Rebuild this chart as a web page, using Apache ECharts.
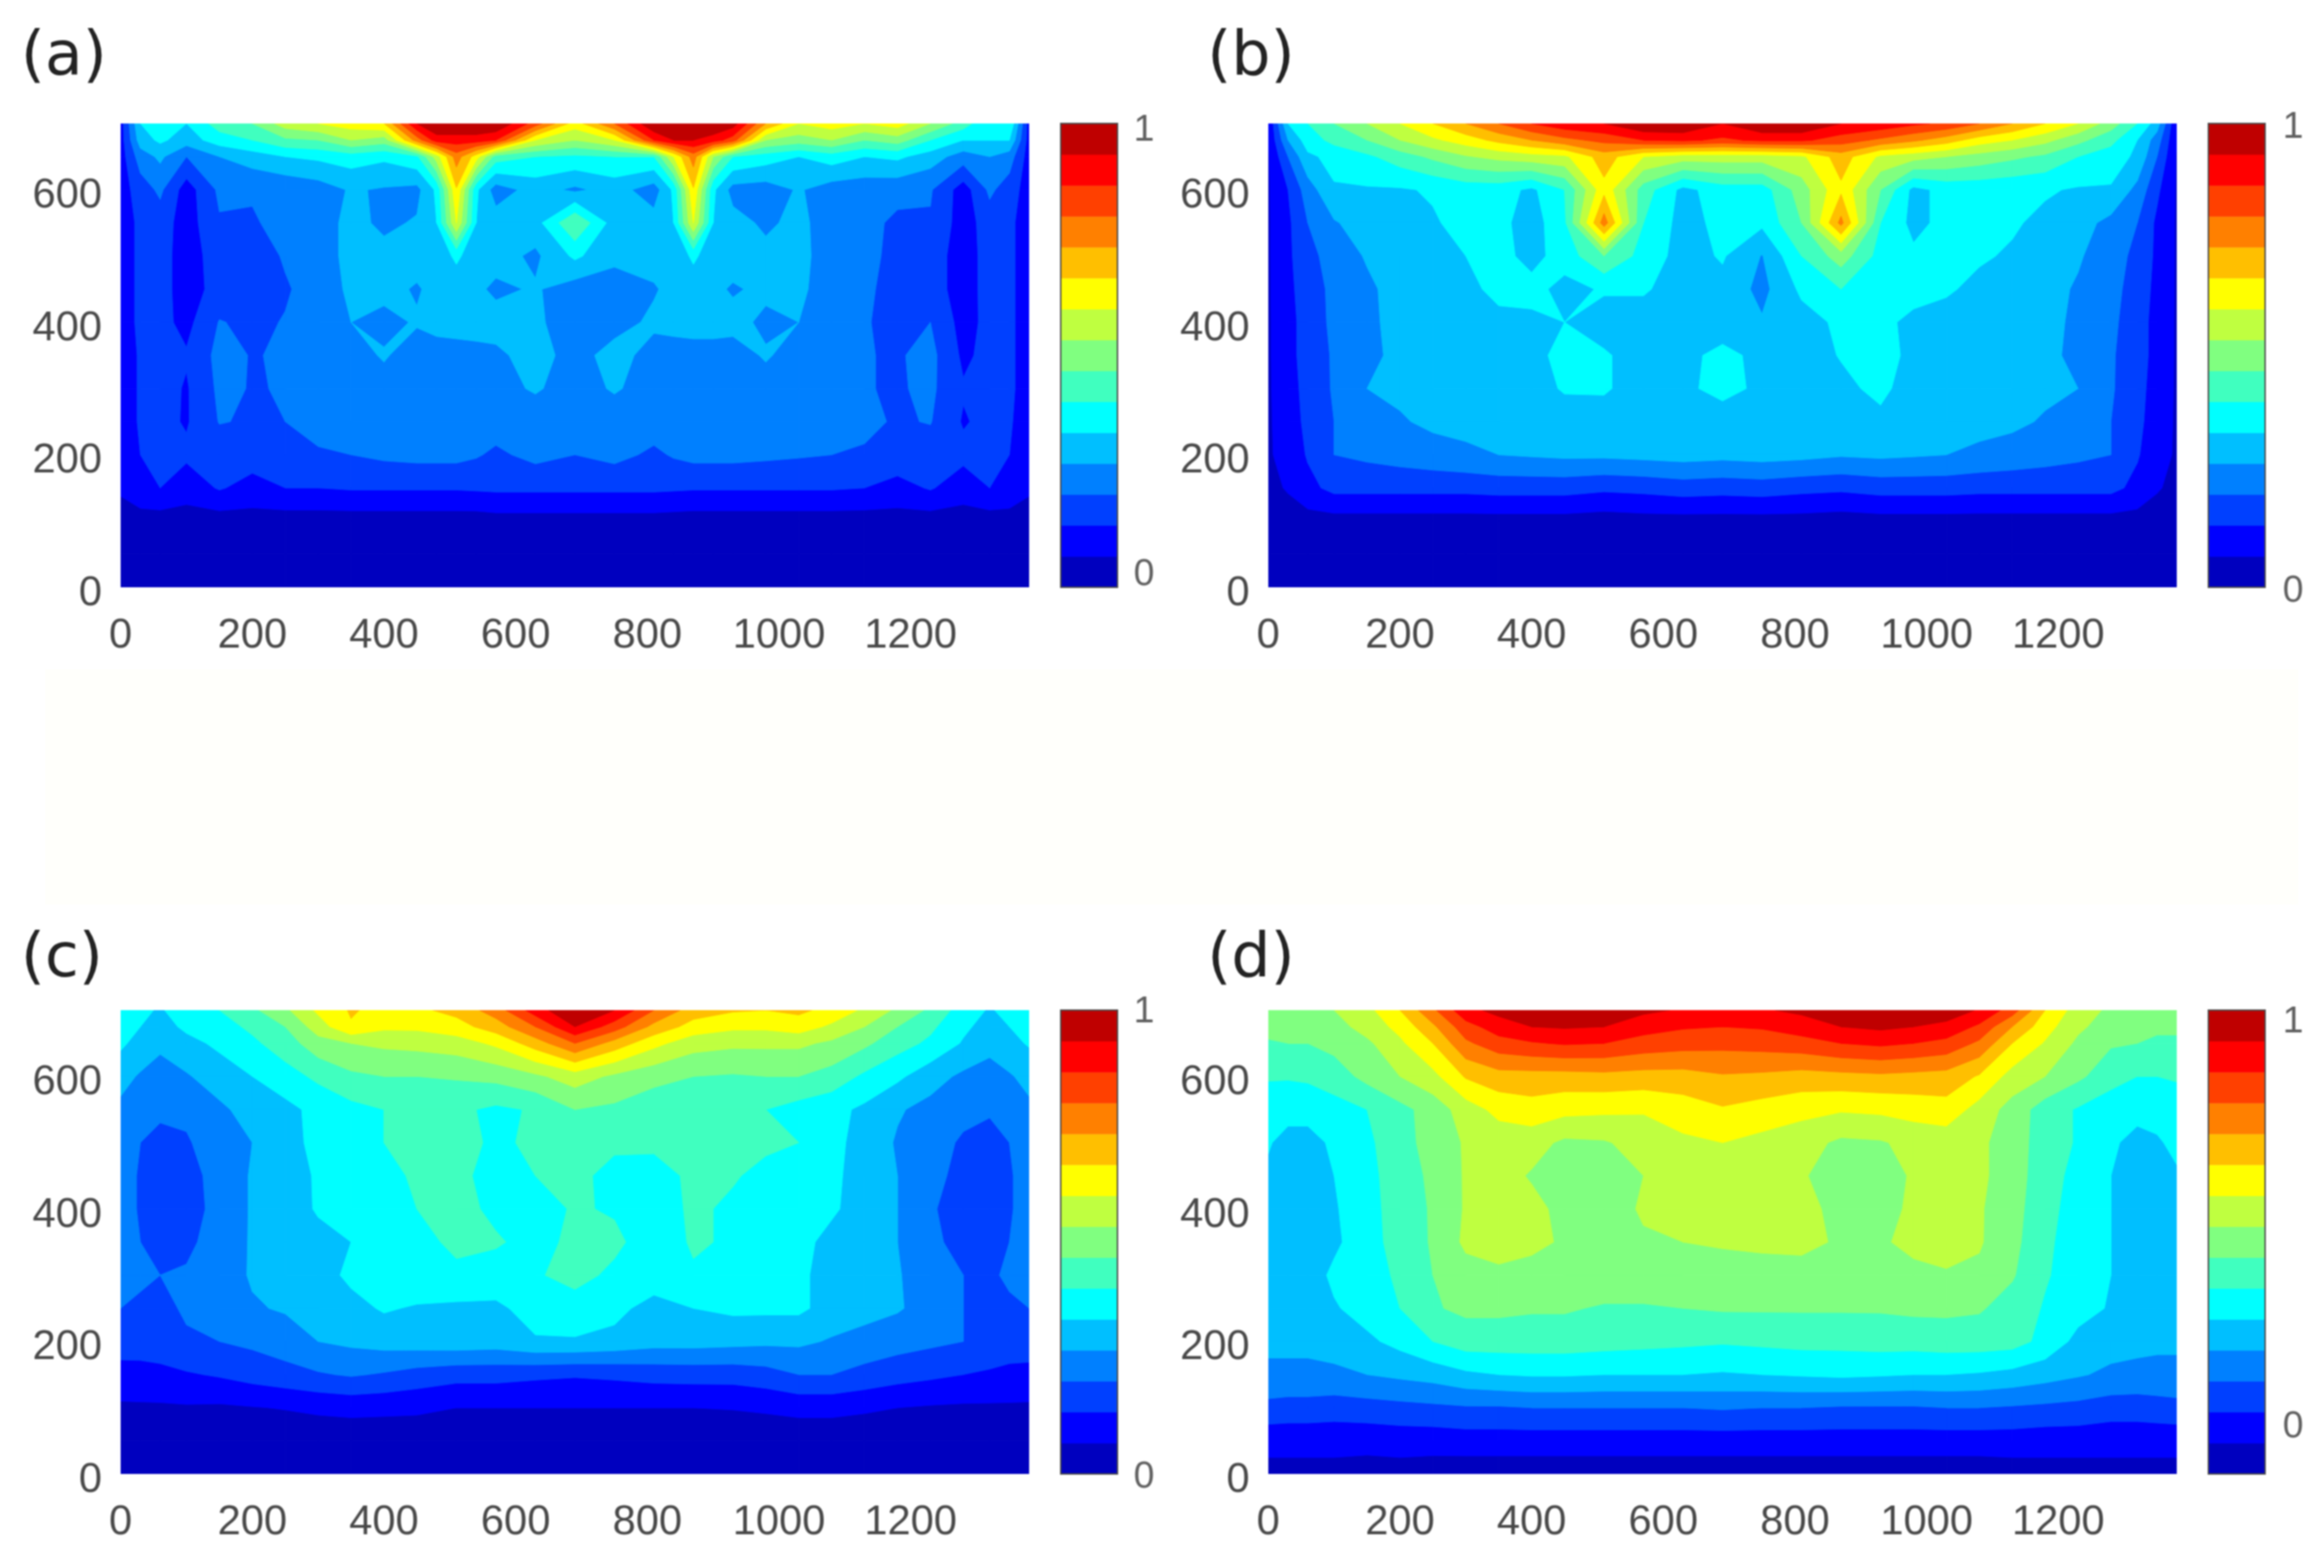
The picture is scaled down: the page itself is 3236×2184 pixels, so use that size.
<!DOCTYPE html>
<html lang="en">
<head>
  <meta charset="UTF-8">
  <title>Contour panels</title>
  <script src="https://cdn.jsdelivr.net/npm/echarts@6/dist/echarts.min.js"></script>
  <style>
    html, body { margin: 0; padding: 0; background: #fff; }
    #chart { width: 3236px; height: 2184px; }
    /* the source figure is a soft, upscaled image */
    #chart canvas { filter: blur(1.2px); }
  </style>
</head>
<body>
<div id="chart"></div>
<script>
// grid nodes, values are in colour band units (0 to 15)
var xNodes = [0,30,60,100,150,200,250,300,350,400,450,510,570,630,690,750,810,870,930,980,1030,1080,1130,1180,1230,1280,1320,1350,1380];
// panel (a) has narrow spikes at 510 and 870 so it gets four more columns
var xNodesA = [0,30,60,100,150,200,250,300,350,400,450,480,510,540,570,630,690,750,810,840,870,900,930,980,1030,1080,1130,1180,1230,1280,1320,1350,1380];
var yNodes = [700,675,650,600,550,500,450,400,350,300,250,200,150,100,50,0];
var xTicks = [0,200,400,600,800,1000,1200];
var yTicks = [0,200,400,600];
var panelNames = ['(a)','(b)','(c)','(d)'];
var bandColors = ['#0000bf','#0000ff','#0040ff','#0080ff','#00bfff','#00ffff','#40ffbf','#80ff80','#bfff40','#ffff00','#ffbf00','#ff8000','#ff4000','#ff0000','#bf0000'];

var panelA = [
  [1.5,5,6,5,6.5,7,8.5,9,9.5,10,14,15,15,15,15,12.5,9.5,12,15,15,15,15,14.5,11,9,9.5,9,9.5,8,6.5,5,6,1.5],
  [1.5,4.5,5.2,4.5,5.5,6,6.8,7,8,7.5,11.5,13.5,13.5,13.5,13,9,8,9,13,14,14,13.5,12.5,8,7.5,8,7,7.5,6,5,5,5,1.5],
  [1.5,3.5,4.2,3,4,4.5,5,5.2,5.5,5.2,5.8,8.5,11.5,9.5,6.5,6,5.8,6,6,9,11.5,8,6,5.5,5,5.5,5,5.2,4.5,3.5,4,3.5,1.5],
  [1.5,2.5,3.2,1.5,3.2,3.1,3.2,3.5,4.1,3.9,3.7,5.2,9.9,5.2,3.5,4.4,3.8,4.4,3.5,5.2,9.9,5.2,3.6,3.5,4.1,3.5,3.4,3.3,3.1,1.5,3.2,2.5,1.5],
  [1.5,2.2,2.5,1.5,2.9,2.9,3.3,3.5,4.3,3.8,4.1,5,9,5,4.5,4.6,6.95,4.5,4.4,5,9,5,4.4,3.8,4.3,3.4,3.3,2.8,2.9,1.5,2.5,2.2,1.5],
  [1.5,2.2,2.4,1.5,2.5,2.5,3.1,3.5,4.3,4.3,4.4,4.4,5.2,4.4,4.4,3.8,5.2,4.2,4.4,4.3,5.2,4.4,4.4,4.3,4.3,3.5,3.3,2.7,2.5,1.5,2.4,2.2,1.5],
  [1.5,2.2,2.4,1.5,2.4,2.4,2.9,3.4,4.2,4.3,3.9,4.3,4.4,4.2,3.8,4.1,3.5,3.6,3.9,4.3,4.4,4.2,3.9,4.2,4.2,3.5,3.2,2.6,2.5,1.5,2.4,2.2,1.5],
  [1.5,2.2,2.3,1.7,3.05,2.8,3.05,3.5,4,3.7,4.1,4.3,4.4,4.4,4.4,4.2,3.4,3.6,4.2,4.3,4.4,4.4,4.3,3.8,4,3.4,3.1,2.6,3,1.6,2.3,2.2,1.5],
  [1.5,2.1,2.4,2.1,3.3,2.95,3.1,3.4,3.6,4.1,3.5,3.6,3.6,3.7,3.8,4.4,3.6,4.4,3.6,3.6,3.6,3.6,3.6,4.1,3.6,3.3,3.05,2.9,3.3,1.8,2.3,2.2,1.5],
  [1.5,2.1,2.4,1.9,3.2,2.95,3.05,3.3,3.5,3.6,3.5,3.6,3.6,3.6,3.7,4.1,3.6,4.1,3.6,3.6,3.6,3.6,3.6,3.6,3.5,3.4,3.05,2.9,3.2,2.1,2.3,2.2,1.5],
  [1.5,2.1,2.3,1.9,3.05,2.9,3,3.3,3.5,3.5,3.5,3.5,3.5,3.5,3.5,3.5,3.5,3.5,3.5,3.5,3.5,3.5,3.5,3.5,3.5,3.4,3.2,2.9,3.05,1.9,2.3,2.1,1.5],
  [1.5,2,2.1,2.2,2.4,2.5,2.7,2.9,3,3.2,3.3,3.3,3.3,3.1,2.8,3.3,3,3.3,2.8,3.1,3.3,3.3,3.3,3.2,3.1,3,2.9,2.7,2.5,2.3,2.1,2,1.5],
  [1.2,1.8,2,1.4,2.1,1.6,2,2,2.1,2.1,2.1,2.1,2.1,2.15,2.2,2.2,2.2,2.2,2.2,2.15,2.1,2.1,2.1,2.1,2.1,2.1,2,1.6,2.1,1.4,2,1.8,1.2],
  [.4,.5,.5,.6,.5,.6,.5,.5,.5,.5,.5,.5,.5,.5,.6,.6,.6,.6,.6,.55,.5,.5,.5,.5,.5,.5,.5,.6,.5,.6,.5,.5,.4],
  [.2,.2,.2,.2,.2,.2,.2,.2,.2,.2,.2,.2,.2,.2,.2,.2,.2,.2,.2,.2,.2,.2,.2,.2,.2,.2,.2,.2,.2,.2,.2,.2,.2],
  [0,0,0,0,0,0,0,0,0,0,0,0,0,0,0,0,0,0,0,0,0,0,0,0,0,0,0,0,0,0,0,0,0]
];

var panelB = [
  [1,5,6,7,8,9,10,11,12,13,13.7,14,15,15,14,15,15,14,13.7,13.2,12.8,12,11,10,9,7.5,6,4.5,1],
  [1,4,5.5,6.3,7,8,8.8,9.5,10.3,11,11.7,12.3,13,13.2,12.8,13.2,13.2,12.5,11.8,11.2,10.5,9.5,9,8.3,7.3,6.3,5,3.5,1],
  [.9,3,4.8,5.3,5.8,6.5,7.2,7.9,8.3,8.6,8.8,10.5,9,8.5,8.5,8.5,8.8,10.5,8.8,8.4,8,7.6,7.2,6.8,6,5.5,4.8,3,.9],
  [.9,2,3.5,4.9,4.9,4.9,5.1,5.4,5.4,4.8,6,9.7,6.5,4.7,5.5,5.5,7.5,9.8,7,4.7,5.3,5.3,5.2,5.1,4.9,4.9,3.7,2.2,.9],
  [.9,1.8,3,3.9,4.5,4.8,4.9,5.3,5.3,4.5,5.8,11.5,6,4.6,5.3,5.2,7,11.3,6,4.7,5.3,5.2,5.1,4.8,4.4,3.7,3,1.8,.9],
  [.9,1.8,2.7,3.4,4.1,4.6,4.8,5,5.3,4.7,5.4,7,5.6,4.6,5.1,3.95,6,7.5,5.6,5.2,5.3,5.1,4.9,4.5,4.1,3.5,2.7,1.8,.9],
  [.9,1.7,2.6,3.2,3.8,4.4,4.6,4.8,5.2,5.3,4.7,5.1,5.1,4.6,4.7,3.7,5.2,6,5.4,5.3,5.1,4.8,4.6,4.3,3.9,3.3,2.6,1.7,.9],
  [.9,1.6,2.5,3.2,3.8,4.3,4.6,4.7,4.8,4.8,5,4.6,4.6,4.6,4.6,4.1,4.6,5.2,5.2,4.8,4.7,4.7,4.6,4.3,3.8,3.2,2.5,1.6,.9],
  [.9,1.6,2.5,3.1,3.8,4.2,4.4,4.5,4.6,4.7,5.3,5.1,4.6,4.8,5.2,4.8,4.6,5.05,5.3,4.8,4.6,4.6,4.5,4.2,3.8,3.1,2.5,1.6,.9],
  [.9,1.5,2.4,3.1,4,4.2,4.4,4.5,4.5,4.6,5.1,5.1,4.6,4.8,5.3,4.8,4.6,4.8,5.2,4.6,4.5,4.5,4.4,4.2,4,3.1,2.4,1.5,.9],
  [.9,1.4,2.3,3,3.6,3.9,4.2,4.3,4.4,4.4,4.5,4.6,4.5,4.5,4.5,4.5,4.5,4.5,4.8,4.4,4.4,4.3,4.2,3.9,3.6,3,2.3,1.4,.9],
  [.9,1.3,2.1,3,3.2,3.4,3.6,3.8,4,4.1,4.2,4.2,4.3,4.4,4.3,4.4,4.3,4.1,4.2,4.1,4,3.8,3.6,3.4,3.2,3,2.1,1.3,.9],
  [.7,1.1,1.7,2.3,2.3,2.3,2.3,2.3,2.4,2.4,2.4,2.2,2.3,2.5,2.4,2.5,2.3,2.2,2.4,2.4,2.4,2.3,2.3,2.3,2.3,2.3,1.7,1.1,.7],
  [.4,.5,.6,.6,.6,.6,.6,.6,.6,.6,.6,.5,.6,.6,.6,.6,.6,.5,.6,.6,.6,.6,.6,.6,.6,.6,.6,.5,.4],
  [.2,.2,.2,.2,.2,.2,.2,.2,.2,.2,.2,.2,.2,.2,.2,.2,.2,.2,.2,.2,.2,.2,.2,.2,.2,.2,.2,.2,.2],
  [0,0,0,0,0,0,0,0,0,0,0,0,0,0,0,0,0,0,0,0,0,0,0,0,0,0,0,0,0]
];

var panelC = [
  [5.5,5.2,4.9,5.5,6,6.8,7.8,9.2,10.1,9.7,9.8,10.3,11.5,13.5,15,14,12,10.5,10.1,10,10.2,9.7,8.8,7.8,6.8,5.5,4.9,5.3,5.5],
  [5.3,5,4.6,5.2,5.6,6.2,7,8.5,9.9,9.2,9.2,9.6,10.5,12,14,12.5,10.7,9.6,9.2,9.2,9.5,8.8,8,7,6.2,5.2,4.6,5,5.3],
  [5.2,4.6,4.2,4.7,5.2,5.8,6.5,7.6,8,8.2,8.3,8.5,9.2,10.5,12,10.6,9.3,8.4,8.2,8.2,8.2,7.8,7.2,6.4,5.8,4.9,4.3,4.7,5.1],
  [4.3,3.9,3.6,3.9,4.5,5,5.6,6.2,6.8,7,7,7.1,7.3,7.8,8.5,7.8,7.3,7,6.9,7,7,6.6,5.8,5.2,4.4,3.8,3.6,3.9,4.3],
  [3.8,3.4,3.2,3.2,3.8,4.4,4.7,5.3,5.7,6,6.3,6.2,5.8,6.1,7,6.8,6.4,6.2,6.1,6,5.6,5.3,4.8,4.1,3.7,3.2,3.1,3.4,3.8],
  [3.5,3,2.7,2.9,3.5,4,4.6,5.3,5.9,6,6.2,6.2,5.9,6.1,6.4,6.3,6.3,6.3,6.3,6.2,6,5.3,4.6,3.9,3.3,2.9,2.7,3,3.5],
  [3.4,2.9,2.5,2.7,3.3,4.1,4.6,5.1,5.3,5.6,6.2,6.2,5.7,6,6.4,5.5,5.4,6.3,6.1,5.7,5.4,5.2,4.6,4,3.2,2.8,2.5,2.9,3.4],
  [3.4,2.9,2.5,2.6,3.3,4.1,4.5,5.1,5.4,5.6,6,6.3,5.8,5.6,6.1,5.9,5.4,6.2,5.8,5.4,5.2,5.1,4.7,4,3.1,2.6,2.5,2.9,3.4],
  [3.3,3,2.6,2.8,3.4,4.1,4.4,4.7,5,5.4,5.7,6.2,6.1,5.7,6.2,6.2,5.5,6.1,5.9,5.5,5.2,4.8,4.6,4,3.2,2.7,2.6,3,3.3],
  [3.2,3.1,3,3.1,3.5,4.1,4.4,4.6,5.2,5.4,5.7,5.8,5.6,5.9,6.3,5.8,5.6,5.9,5.6,5.4,5.2,4.6,4.4,4.1,3.3,3,2.9,3.1,3.2],
  [3,2.9,2.8,3.1,3.4,3.9,4.1,4.3,4.7,5.1,4.9,4.8,4.8,5.4,5.6,5.3,4.6,5,5.2,5.2,5.2,4.6,4.4,4.1,3.6,3,2.9,2.9,3],
  [2.5,2.4,2.4,2.9,3,3.2,3.5,4,4.2,4.4,4.5,4.6,4.5,4.9,4.9,4.7,4.4,4.4,4.3,4.2,4.2,3.9,3.6,3.4,3.2,3,2.5,2.4,2.5],
  [1.6,1.7,1.8,1.9,2.1,2.4,2.65,2.9,3.1,2.9,2.6,2.35,2.35,2.2,2.1,2.2,2.35,2.4,2.4,2.6,3,3,2.7,2.4,2.2,2,1.9,1.8,1.7],
  [.85,.85,.85,.9,.85,.95,1.05,1.2,1.3,1.25,1.2,1,1,1,1,1,1,1,1.05,1.15,1.3,1.3,1.15,1,.9,.85,.85,.85,.85],
  [.3,.3,.3,.3,.3,.3,.3,.3,.3,.3,.3,.3,.3,.3,.3,.3,.3,.3,.3,.3,.3,.3,.3,.3,.3,.3,.3,.3,.3],
  [0,0,0,0,0,0,0,0,0,0,0,0,0,0,0,0,0,0,0,0,0,0,0,0,0,0,0,0,0]
];

var panelD = [
  [7.6,7.6,7.7,8,8.7,10,11.8,13.7,14.3,15,15,15,14.2,13.9,13.8,13.9,14.2,15,15,15,14.6,13.9,12.5,10,8.5,7.8,7.5,7.4,7.4],
  [7.3,7.2,7.3,7.6,8.4,9.3,10.8,12.6,13.5,14,14.1,14,13.4,13.1,13,13.1,13.5,14,14.2,14,13.7,12.8,11,9.4,8.2,7.5,7.2,7.1,7.1],
  [6.9,7,7,7.3,7.8,8.8,10,11.8,12.6,12.9,13.1,13,12.6,12.4,12.3,12.4,12.6,13,13.2,13,12.7,11.8,10,8.9,7.8,7.1,7,6.9,6.9],
  [6.1,6.1,6.2,6.5,7.3,8,8.7,10.1,10.6,10.6,10.6,10.7,10.6,10.6,10.9,10.8,10.6,10.7,10.8,10.7,10.6,9.9,8.6,8,7.2,6.4,6,6,6.1],
  [5.4,5.2,5.2,5.6,6,6.7,7.4,8.5,9.3,9.6,9.3,9.2,9.1,9.5,9.9,9.6,9.3,9.1,9.2,9.4,9.6,8.6,7.6,6.5,5.9,5.4,5.2,5.3,5.5],
  [5.05,4.8,4.8,5.1,5.8,6.6,7.4,8.1,8.4,8.4,7.8,7.9,8.4,8.8,9,8.7,8.4,7.8,7.9,8.3,8.4,8.2,7.5,6.5,5.9,5.1,4.8,4.9,5.2],
  [4.9,4.7,4.6,5,5.7,6.5,7.2,8.1,8.4,7.9,7.4,7.5,8,8.5,8.5,8.4,8.1,7.5,7.6,8.1,8.4,8.2,7.5,6.4,5.7,5,4.6,4.7,4.9],
  [4.6,4.6,4.6,4.9,5.6,6.5,7.1,8.1,8.4,8.3,7.7,7.6,8.1,8.3,8.4,8.3,8.2,7.8,7.8,8.1,8.4,8.1,7.4,6.3,5.6,5,4.6,4.6,4.6],
  [4.5,4.5,4.5,4.8,5.6,6.4,7.1,8.2,8.4,8.2,7.9,7.6,7.9,8,8.1,8.2,8.2,7.9,7.9,8.2,8.4,8.1,7.3,6.2,5.5,5,4.6,4.5,4.5],
  [4.4,4.5,4.5,5.2,5.5,6.2,7,7.6,7.8,7.7,7.6,7.6,7.6,7.6,7.6,7.6,7.7,7.7,7.7,7.8,7.9,7.8,7.1,6.1,5.5,5,4.6,4.4,4.4],
  [4.3,4.3,4.4,4.9,5.4,6,6.9,7.2,7.2,7.1,7.1,6.9,6.9,7,7.1,7.1,7.1,7.1,7.1,7.2,7.2,7.1,6.6,5.9,5.4,4.9,4.5,4.3,4.3],
  [4.2,4.2,4.2,4.4,4.8,5.3,6,6.5,6.5,6.5,6.5,6.4,6.3,6.2,6.1,6.2,6.3,6.3,6.4,6.4,6.5,6.5,6.4,5.7,4.7,4.4,4.3,4.2,4.2],
  [3.8,3.8,3.8,3.8,4,4.2,4.4,4.8,5,5.1,5.1,5,5,5,4.9,5,5.1,5.2,5.1,5,5,4.9,4.7,4.4,4.1,3.8,3.7,3.7,3.7],
  [2.7,2.6,2.6,2.5,2.6,2.7,2.8,2.9,2.9,3,3,3,3,3,3.1,3,3,2.9,2.9,2.9,3,3,2.9,2.8,2.7,2.5,2.5,2.6,2.7],
  [1.3,1.3,1.3,1.3,1.3,1.4,1.4,1.5,1.5,1.5,1.5,1.5,1.5,1.5,1.5,1.5,1.5,1.5,1.5,1.5,1.5,1.5,1.5,1.4,1.4,1.3,1.3,1.3,1.3],
  [.7,.7,.7,.7,.6,.6,.5,.4,.4,.4,.4,.4,.4,.4,.4,.4,.4,.4,.4,.4,.4,.4,.5,.6,.6,.7,.7,.7,.7]
];

var panels = [panelA, panelB, panelC, panelD];
var panelXs = [xNodesA, xNodes, xNodes, xNodes];

// pixel layout of the panels
var plotLeft = [168, 1766, 168, 1766];
var plotTop = [172, 172, 1407, 1407];
var plotW = 1265, plotH = 646;
var barLeft = [1477, 3075, 1477, 3075];
var barW = 79;
var letterLeft = [24, 1676, 24, 1676];
var letterTop = [34, 34, 1290, 1290];
// colourbar labels sit at slightly different heights in each panel
var barLabelX = [1593, 3193, 1593, 3193];
var barLabelOne = [182, 178, 1410, 1424];
var barLabelZero = [801, 824, 2058, 1988];

var axisFont = { fontFamily: 'Liberation Sans', fontSize: 58, color: '#484848' };

function plainNumber(v) { return String(v); }

// part of a cell where the value is at least level, straight edges between nodes
function clipCell(corners, level) {
  var out = [];
  for (var i = 0; i < 4; i++) {
    var a = corners[i], b = corners[(i + 1) % 4];
    if (a[2] >= level) out.push([a[0], a[1]]);
    if ((a[2] >= level) !== (b[2] >= level)) {
      var t = (level - a[2]) / (b[2] - a[2]);
      out.push([a[0] + t * (b[0] - a[0]), a[1] + t * (b[1] - a[1])]);
    }
  }
  return out;
}

function cellCorners(rows, xs, r, c) {
  return [
    [xs[c], yNodes[r], rows[r][c]],
    [xs[c + 1], yNodes[r], rows[r][c + 1]],
    [xs[c + 1], yNodes[r + 1], rows[r + 1][c + 1]],
    [xs[c], yNodes[r + 1], rows[r + 1][c]]
  ];
}

// list of [column, row, band], lower bands first so the higher ones paint on top
function contourItems(rows, xs) {
  var items = [];
  for (var k = 0; k < bandColors.length; k++) {
    for (var r = 0; r < yNodes.length - 1; r++) {
      for (var c = 0; c < xs.length - 1; c++) {
        var z = [rows[r][c], rows[r][c + 1], rows[r + 1][c], rows[r + 1][c + 1]];
        var lo = Math.min.apply(null, z), hi = Math.max.apply(null, z);
        if (hi >= k && (lo < k + 1 || k === bandColors.length - 1)) items.push([c, r, k]);
      }
    }
  }
  return items;
}

function contourRender(rows, xs) {
  return function (params, api) {
    var k = api.value(2);
    var pts = clipCell(cellCorners(rows, xs, api.value(1), api.value(0)), k).map(function (p) {
      return api.coord(p);
    });
    return {
      type: 'polygon',
      shape: { points: pts },
      style: { fill: bandColors[k], stroke: bandColors[k], lineWidth: 1 }
    };
  };
}

function colorbarRender(params, api) {
  var k = api.value(0);
  var p0 = api.coord([0, k + 1]);
  var p1 = api.coord([1, k]);
  return {
    type: 'rect',
    shape: { x: p0[0], y: p0[1], width: p1[0] - p0[0], height: p1[1] - p0[1] + 0.5 },
    style: { fill: bandColors[k] }
  };
}

var grids = [], xAxes = [], yAxes = [], series = [], titles = [];
var graphics = [{ type: 'rect', z: -1, shape: { x: 63, y: 932, width: 3137, height: 328 }, style: { fill: '#fffffb' } }];

panels.forEach(function (rows, i) {
  grids.push({ left: plotLeft[i], top: plotTop[i], width: plotW, height: plotH });
  xAxes.push({
    gridIndex: grids.length - 1, type: 'value', min: 0, max: 1380,
    splitLine: { show: false }, axisLine: { show: false }, axisTick: { show: false },
    axisLabel: Object.assign({ customValues: xTicks, margin: 39, formatter: plainNumber }, axisFont)
  });
  yAxes.push({
    gridIndex: grids.length - 1, type: 'value', min: 0, max: 700,
    splitLine: { show: false }, axisLine: { show: false }, axisTick: { show: false },
    // labels in the source sit a little under their tick height
    axisLabel: Object.assign({ customValues: yTicks, margin: 26, verticalAlign: 'top', lineHeight: 18, formatter: plainNumber }, axisFont)
  });
  series.push({
    type: 'custom', xAxisIndex: grids.length - 1, yAxisIndex: grids.length - 1,
    renderItem: contourRender(rows, panelXs[i]), data: contourItems(rows, panelXs[i]),
    clip: true, silent: true, animation: false, progressive: 0
  });

  // colourbar
  grids.push({
    left: barLeft[i], top: plotTop[i], width: barW, height: plotH, z: 3,
    show: true, borderColor: '#4a4a4a', borderWidth: 2, backgroundColor: 'transparent'
  });
  xAxes.push({ gridIndex: grids.length - 1, type: 'value', min: 0, max: 1, show: false });
  yAxes.push({ gridIndex: grids.length - 1, type: 'value', min: 0, max: bandColors.length, show: false });
  series.push({
    type: 'custom', xAxisIndex: grids.length - 1, yAxisIndex: grids.length - 1,
    encode: { x: -1, y: 0 }, renderItem: colorbarRender,
    data: bandColors.map(function (c, k) { return [k]; }),
    silent: true, animation: false
  });

  titles.push({
    text: panelNames[i], left: letterLeft[i], top: letterTop[i],
    textStyle: { fontFamily: 'DejaVu Sans', fontWeight: 'normal', fontSize: 86, color: '#222222' }
  });
  [['1', barLabelOne[i]], ['0', barLabelZero[i]]].forEach(function (lab) {
    graphics.push({
      type: 'text', x: barLabelX[i], y: lab[1],
      style: { text: lab[0], fontFamily: 'Liberation Sans', fontSize: 52, fill: '#606060', align: 'center', verticalAlign: 'middle' }
    });
  });
});

var chart = echarts.init(document.getElementById('chart'));
chart.setOption({
  animation: false,
  backgroundColor: '#ffffff',
  title: titles,
  grid: grids,
  xAxis: xAxes,
  yAxis: yAxes,
  series: series,
  graphic: graphics
});
</script>
</body>
</html>
